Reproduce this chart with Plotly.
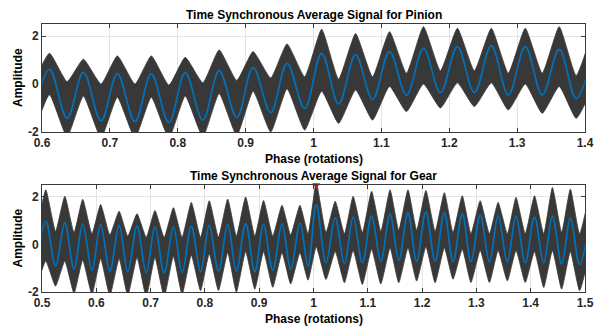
import plotly.graph_objects as go

# ---------------- Pinion (top) : extremes ----------------
pin_peak_x = [0.611, 0.661, 0.711, 0.761, 0.811, 0.861, 0.911, 0.961, 1.012, 1.062, 1.112, 1.162, 1.212, 1.262, 1.312, 1.362]
pin_trough_x = [0.637, 0.687, 0.737, 0.787, 0.837, 0.887, 0.937, 0.987, 1.037, 1.087, 1.137, 1.187, 1.237, 1.287, 1.337, 1.387]
pin_edge_x = [0.587, 1.412]

pin_tsa_peak = [0.61, 0.49, 0.42, 0.42, 0.47, 0.56, 0.68, 0.86, 1.28, 1.21, 1.35, 1.49, 1.56, 1.60, 1.56, 1.44]
pin_tsa_trough = [-1.43, -1.53, -1.57, -1.60, -1.50, -1.39, -1.19, -1.02, -0.83, -0.64, -0.46, -0.36, -0.36, -0.46, -0.46, -0.60]
pin_tsa_edge = [-1.35, 1.35]

pin_raw_hi_peak = [1.28, 1.03, 1.17, 1.17, 1.11, 1.42, 1.35, 1.67, 2.28, 2.10, 2.18, 2.39, 2.32, 2.32, 2.32, 2.39]
pin_raw_hi_trough = [0.10, 0.00, 0.00, -0.05, 0.05, 0.15, 0.25, 0.30, 0.20, 0.30, 0.45, 0.55, 0.55, 0.45, 0.45, 0.35]
pin_raw_hi_edge = [0.00, 2.30]
pin_raw_lo_peak = [-0.45, -0.50, -0.55, -0.55, -0.50, -0.40, -0.30, -0.20, -0.30, -0.25, -0.10, 0.00, 0.05, 0.05, 0.00, -0.10]
pin_raw_lo_trough = [-2.20, -2.25, -2.25, -2.25, -2.20, -2.15, -2.00, -1.92, -1.64, -1.50, -1.15, -1.00, -0.94, -1.08, -1.22, -1.43]
pin_raw_lo_edge = [-2.10, -0.10]

# ---------------- Gear (bottom) ----------------
gear_peak_x = [0.507, 0.542, 0.575, 0.608, 0.642, 0.675, 0.708, 0.742, 0.775, 0.808,
               0.842, 0.875, 0.908, 0.942, 0.975, 1.005, 1.040, 1.073, 1.107, 1.141,
               1.174, 1.207, 1.241, 1.274, 1.307, 1.340, 1.373, 1.407, 1.440, 1.473]
gear_trough_x = [0.525, 0.559, 0.592, 0.625, 0.658, 0.692, 0.725, 0.758, 0.792, 0.825,
                 0.858, 0.892, 0.925, 0.958, 0.990, 1.023, 1.057, 1.090, 1.124, 1.157,
                 1.190, 1.224, 1.257, 1.290, 1.324, 1.357, 1.390, 1.424, 1.457, 1.490]
gear_edge_x = [0.490, 1.509]

gear_tsa_peak = [0.98, 0.91, 0.87, 0.84, 0.80, 0.77, 0.74, 0.74, 0.77, 0.80,
                 0.84, 0.87, 0.84, 0.87, 0.90, 1.68, 1.12, 1.15, 1.19, 1.29,
                 1.33, 1.38, 1.33, 1.29, 1.24, 1.19, 1.19, 1.15, 1.19, 1.12]
gear_tsa_trough = [-0.91, -1.05, -1.09, -1.12, -1.15, -1.19, -1.19, -1.19, -1.15, -1.12,
                   -1.12, -1.15, -1.09, -1.05, -0.91, -0.77, -0.81, -0.77, -0.70, -0.67,
                   -0.70, -0.70, -0.72, -0.72, -0.72, -0.72, -0.77, -0.77, -0.81, -0.84]
gear_tsa_edge = [-0.80, 1.10]

gear_raw_hi_peak = [2.30, 2.03, 1.90, 1.68, 1.40, 1.29, 1.43, 1.55, 1.77, 1.84,
                    1.91, 2.00, 1.85, 1.65, 1.65, 2.60, 1.82, 2.03, 2.24, 2.30,
                    2.30, 2.27, 2.18, 2.05, 1.84, 1.77, 1.98, 2.05, 2.40, 2.33]
gear_raw_hi_trough = [0.55, 0.50, 0.45, 0.40, 0.35, 0.30, 0.30, 0.30, 0.30, 0.30,
                      0.35, 0.35, 0.35, 0.40, 0.45, 0.50, 0.45, 0.50, 0.55, 0.60,
                      0.60, 0.55, 0.50, 0.45, 0.45, 0.45, 0.45, 0.45, 0.50, 0.45]
gear_raw_hi_edge = [0.50, 2.20]
gear_raw_lo_peak = [-0.70, -0.70, -0.65, -0.60, -0.60, -0.55, -0.55, -0.50, -0.45, -0.40,
                    -0.35, -0.30, -0.30, -0.35, -0.35, -0.10, -0.30, -0.25, -0.20, -0.15,
                    -0.15, -0.10, -0.15, -0.20, -0.25, -0.25, -0.25, -0.30, -0.25, -0.30]
gear_raw_lo_trough = [-1.75, -2.05, -2.10, -2.15, -2.15, -2.20, -2.20, -2.10, -1.94, -1.94,
                      -2.00, -1.88, -1.80, -1.66, -1.50, -1.47, -1.61, -1.68, -1.66, -1.61,
                      -1.54, -1.61, -1.46, -1.60, -1.60, -1.53, -1.60, -1.81, -1.88, -1.94]
gear_raw_lo_edge = [-1.80, -0.30]

gear_marker_x = [1.005]
gear_marker_y = [2.5]

pin_ticks = [0.6, 0.7, 0.8, 0.9, 1.0, 1.1, 1.2, 1.3, 1.4]
pin_ticktext = ["0.6", "0.7", "0.8", "0.9", "1", "1.1", "1.2", "1.3", "1.4"]
gear_ticks = [0.5, 0.6, 0.7, 0.8, 0.9, 1.0, 1.1, 1.2, 1.3, 1.4, 1.5]
gear_ticktext = ["0.5", "0.6", "0.7", "0.8", "0.9", "1", "1.1", "1.2", "1.3", "1.4", "1.5"]
y_ticks = [-2, 0, 2]
y_ticktext = ["-2", "0", "2"]

titles = ["Time Synchronous Average Signal for Pinion", "Time Synchronous Average Signal for Gear"]
xlabel = "Phase (rotations)"
ylabel = "Amplitude"


def weave(edge, peaks, troughs):
    out = [edge[0]]
    for p, t in zip(peaks, troughs):
        out += [p, t]
    out.append(edge[1])
    return out


GREY = "#383838"
BLUE = "#0072BD"
AX = "#3a3a3a"
FONT = "Liberation Sans, Arial, sans-serif"

fig = go.Figure()

panels = [
    ("x", "y", pin_edge_x, pin_peak_x, pin_trough_x,
     (pin_tsa_edge, pin_tsa_peak, pin_tsa_trough),
     (pin_raw_hi_edge, pin_raw_hi_peak, pin_raw_hi_trough),
     (pin_raw_lo_edge, pin_raw_lo_peak, pin_raw_lo_trough)),
    ("x2", "y2", gear_edge_x, gear_peak_x, gear_trough_x,
     (gear_tsa_edge, gear_tsa_peak, gear_tsa_trough),
     (gear_raw_hi_edge, gear_raw_hi_peak, gear_raw_hi_trough),
     (gear_raw_lo_edge, gear_raw_lo_peak, gear_raw_lo_trough)),
]

for xa, ya, ex, px, tx, tsa, hi, lo in panels:
    xs = weave(ex, px, tx)
    fig.add_trace(go.Scatter(x=xs, y=weave(*hi), xaxis=xa, yaxis=ya, mode="lines",
                             line=dict(color=GREY, width=0.8, shape="spline", smoothing=0.45),
                             showlegend=False, hoverinfo="skip"))
    fig.add_trace(go.Scatter(x=xs, y=weave(*lo), xaxis=xa, yaxis=ya, mode="lines",
                             line=dict(color=GREY, width=0.8, shape="spline", smoothing=0.45),
                             fill="tonexty", fillcolor=GREY,
                             showlegend=False, hoverinfo="skip"))
    fig.add_trace(go.Scatter(x=xs, y=weave(*tsa), xaxis=xa, yaxis=ya, mode="lines",
                             line=dict(color=BLUE, width=1.7, shape="spline", smoothing=1.0),
                             showlegend=False))

fig.add_trace(go.Scatter(x=gear_marker_x, y=gear_marker_y, xaxis="x2", yaxis="y2",
                         mode="markers", cliponaxis=False,
                         marker=dict(symbol="triangle-down", size=7, color="red"),
                         showlegend=False))

top_dom = [0.597, 1.0]
bot_dom = [0.0, 0.399]

axis_common = dict(showline=True, mirror="ticks", linecolor=AX, linewidth=1,
                   ticks="inside", ticklen=4, tickcolor=AX,
                   showgrid=True, gridcolor="#e3e3e3", gridwidth=1, zeroline=False,
                   tickfont=dict(family=FONT, size=12, color="#262626", weight="bold"))

fig.update_layout(
    width=610, height=327,
    margin=dict(l=42, r=25, t=24, b=35),
    paper_bgcolor="white", plot_bgcolor="white",
    xaxis=dict(domain=[0, 1], anchor="y", range=[0.6, 1.4], tickvals=pin_ticks, ticktext=pin_ticktext, **axis_common),
    yaxis=dict(domain=top_dom, anchor="x", range=[-2, 2.5], tickvals=y_ticks, ticktext=y_ticktext, **axis_common),
    xaxis2=dict(domain=[0, 1], anchor="y2", range=[0.5, 1.5], tickvals=gear_ticks, ticktext=gear_ticktext, **axis_common),
    yaxis2=dict(domain=bot_dom, anchor="x2", range=[-2, 2.5], tickvals=y_ticks, ticktext=y_ticktext, **axis_common),
)

tfont = dict(family=FONT, size=12, color="black", weight="bold")
ann = []
for dom, title in [(top_dom, titles[0]), (bot_dom, titles[1])]:
    ann.append(dict(text=title, xref="paper", yref="paper", x=0.5, y=dom[1], xanchor="center",
                    yanchor="bottom", yshift=0, showarrow=False, font=tfont))
    ann.append(dict(text=xlabel, xref="paper", yref="paper", x=0.5, y=dom[0], xanchor="center",
                    yanchor="top", yshift=-18, showarrow=False, font=tfont))
    ann.append(dict(text=ylabel, xref="paper", yref="paper", x=0, y=(dom[0] + dom[1]) / 2,
                    xanchor="center", yanchor="middle", xshift=-24, textangle=-90,
                    showarrow=False, font=tfont))
fig.update_layout(annotations=ann)

fig.write_html("out.html")
